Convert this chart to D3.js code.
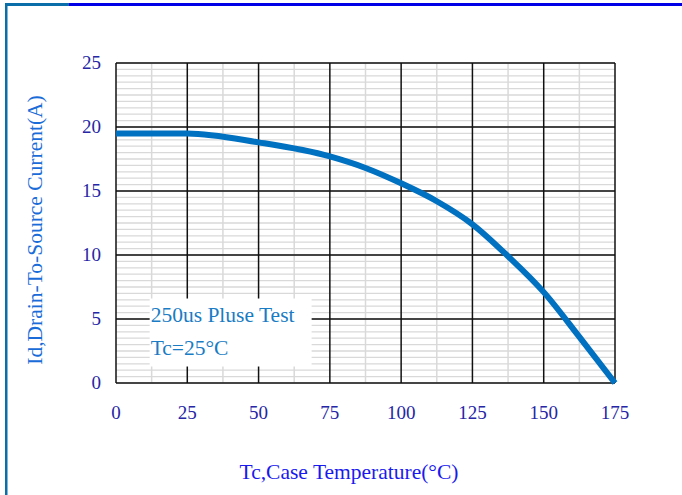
<!DOCTYPE html>
<html>
<head>
<meta charset="utf-8">
<script src="https://cdn.jsdelivr.net/npm/d3@7"></script>
<style>
  body { margin: 0; background: #fff; }
  svg { display: block; }
</style>
</head>
<body>
<div id="chart"></div>
<script>
// temperature (C) vs drain current (A)
var temps = [0, 25, 50, 75, 87.5, 100, 112.5, 125, 137.5, 150, 162.5, 175];
var current = [19.5, 19.5, 18.8, 17.7, 16.8, 15.6, 14.2, 12.4, 9.9, 7.1, 3.6, 0];
var xTicks = [0, 25, 50, 75, 100, 125, 150, 175];
var yTicks = [0, 5, 10, 15, 20, 25];
var noteLines = ["250us Pluse Test", "Tc=25\u00B0C"];

var W = 682, H = 495;
var svg = d3.select("#chart").append("svg")
    .attr("width", W)
    .attr("height", H);

// frame lines round the picture
svg.append("rect").attr("x", 5).attr("y", 3).attr("width", 2.5).attr("height", H - 3).attr("fill", "#0a6fa8");
svg.append("rect").attr("x", 5).attr("y", 3).attr("width", 65).attr("height", 3).attr("fill", "#0a6fa8");
svg.append("rect").attr("x", 69).attr("y", 3).attr("width", W - 69).attr("height", 3).attr("fill", "#0000e6");

var x = d3.scaleLinear().domain([0, 175]).range([116, 615]);
var y = d3.scaleLinear().domain([0, 25]).range([383, 63]);

var g = svg.append("g");

// minor grid
g.selectAll(".hminor")
    .data(d3.range(0, 25.01, 0.5))
    .enter().append("line")
    .attr("x1", x(0)).attr("x2", x(175))
    .attr("y1", function(d) { return y(d); })
    .attr("y2", function(d) { return y(d); })
    .style("stroke", "#d9d9d9")
    .style("stroke-width", 1.3);

g.selectAll(".vminor")
    .data(d3.range(12.5, 175, 25))
    .enter().append("line")
    .attr("y1", y(0)).attr("y2", y(25))
    .attr("x1", function(d) { return x(d); })
    .attr("x2", function(d) { return x(d); })
    .style("stroke", "#d9d9d9")
    .style("stroke-width", 1.5);

// major grid
g.selectAll(".hmajor")
    .data(yTicks)
    .enter().append("line")
    .attr("x1", x(0)).attr("x2", x(175))
    .attr("y1", function(d) { return y(d); })
    .attr("y2", function(d) { return y(d); })
    .style("stroke", "#111")
    .style("stroke-width", 1.5);

g.selectAll(".vmajor")
    .data(xTicks)
    .enter().append("line")
    .attr("y1", y(0)).attr("y2", y(25))
    .attr("x1", function(d) { return x(d); })
    .attr("x2", function(d) { return x(d); })
    .style("stroke", "#111")
    .style("stroke-width", 1.5);

// tick labels
svg.selectAll(".ylab")
    .data(yTicks)
    .enter().append("text")
    .attr("x", 101)
    .attr("y", function(d) { return y(d) + 6; })
    .attr("text-anchor", "end")
    .style("font-family", "Liberation Serif")
    .style("font-size", "19px")
    .style("fill", "#2626a6")
    .text(function(d) { return d; });

svg.selectAll(".xlab")
    .data(xTicks)
    .enter().append("text")
    .attr("x", function(d) { return x(d); })
    .attr("y", 419)
    .attr("text-anchor", "middle")
    .style("font-family", "Liberation Serif")
    .style("font-size", "19px")
    .style("fill", "#2626a6")
    .text(function(d) { return d; });

// note box
var note = svg.append("g");
note.append("rect")
    .attr("x", x(11.8)).attr("y", y(6.6))
    .attr("width", 162).attr("height", 68)
    .attr("fill", "#fff");
note.selectAll("text")
    .data(noteLines)
    .enter().append("text")
    .attr("x", x(11.8) + 1)
    .attr("y", function(d, i) { return 322 + i * 33; })
    .style("font-family", "Liberation Serif")
    .style("font-size", "21.5px")
    .style("fill", "#1a7cc4")
    .text(function(d) { return d; });

// curve
var pts = temps.map(function(t, i) { return [t, current[i]]; });
var line = d3.line()
    .x(function(d) { return x(d[0]); })
    .y(function(d) { return y(d[1]); })
    .curve(d3.curveMonotoneX);

g.append("path")
    .datum(pts)
    .attr("d", line)
    .style("fill", "none")
    .style("stroke", "#0070c0")
    .style("stroke-width", 6);

// axis titles
svg.append("text")
    .attr("x", 349)
    .attr("y", 479)
    .attr("text-anchor", "middle")
    .style("font-family", "Liberation Serif")
    .style("font-size", "21.5px")
    .style("fill", "#1a1aee")
    .text("Tc,Case Temperature(\u00B0C)");

svg.append("text")
    .attr("transform", "translate(42,230) rotate(-90)")
    .attr("text-anchor", "middle")
    .style("font-family", "Liberation Serif")
    .style("font-size", "21.5px")
    .style("fill", "#1a6cd8")
    .text("Id,Drain-To-Source Current(A)");
</script>
</body>
</html>
